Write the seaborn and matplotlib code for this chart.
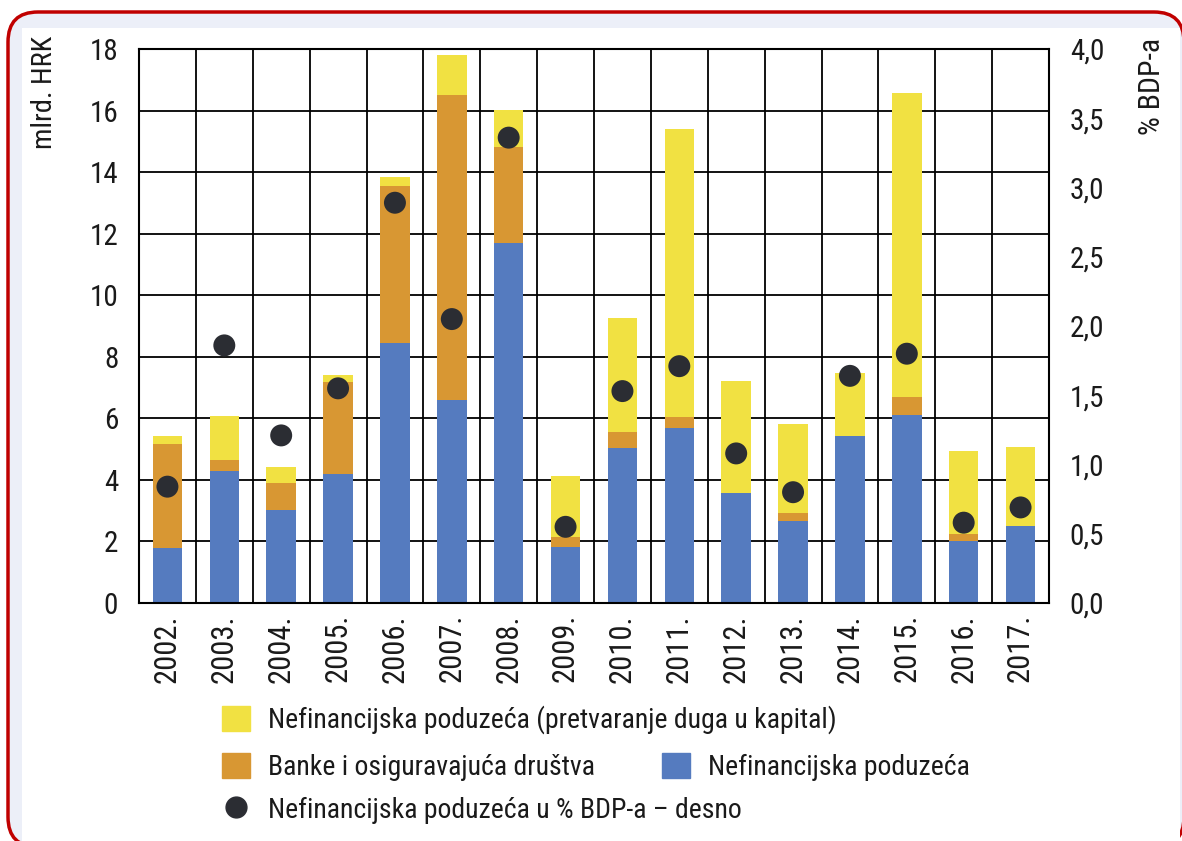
import numpy as np
import pandas as pd
import matplotlib
import matplotlib.pyplot as plt
import seaborn as sns
from matplotlib.patches import Patch, FancyBboxPatch, Rectangle
from matplotlib.lines import Line2D
from matplotlib.ticker import FuncFormatter

matplotlib.use("Agg")

years = ["2002.", "2003.", "2004.", "2005.", "2006.", "2007.", "2008.", "2009.",
         "2010.", "2011.", "2012.", "2013.", "2014.", "2015.", "2016.", "2017."]
# mlrd. HRK, stacked from bottom
nonfin = [1.79, 4.29, 3.02, 4.19, 8.45, 6.60, 11.70, 1.82,
          5.04, 5.69, 3.57, 2.66, 5.43, 6.11, 2.01, 2.50]
banks = [3.38, 0.36, 0.88, 2.99, 5.10, 9.90, 3.12, 0.33,
         0.52, 0.35, 0.00, 0.26, 0.00, 0.58, 0.23, 0.00]
debt_conv = [0.26, 1.43, 0.52, 0.23, 0.29, 1.30, 1.20, 1.98,
             3.70, 9.36, 3.64, 2.90, 2.04, 9.88, 2.70, 2.57]
# % BDP-a, right axis
nonfin_gdp = [0.84, 1.86, 1.21, 1.55, 2.89, 2.05, 3.36, 0.55,
              1.53, 1.71, 1.08, 0.80, 1.64, 1.80, 0.58, 0.69]

lbl_yellow = "Nefinancijska poduzeća (pretvaranje duga u kapital)"
lbl_orange = "Banke i osiguravajuća društva"
lbl_blue = "Nefinancijska poduzeća"
lbl_dot = "Nefinancijska poduzeća u % BDP-a – desno"

c_yellow = "#f1e142"
c_orange = "#d89733"
c_blue = "#557bbf"
c_dot = "#2b2d33"

df = pd.DataFrame({"year": years, "blue": nonfin, "orange": banks,
                   "yellow": debt_conv, "gdp": nonfin_gdp})
df["lvl2"] = df["blue"] + df["orange"]
df["lvl3"] = df["lvl2"] + df["yellow"]

sns.set_style("white")
plt.rcParams["font.family"] = ["Roboto Condensed", "Liberation Sans", "DejaVu Sans"]
plt.rcParams["text.color"] = "#1a1a1a"
plt.rcParams["xtick.color"] = "#1a1a1a"
plt.rcParams["ytick.color"] = "#1a1a1a"

W, H = 1182, 841
fig = plt.figure(figsize=(W / 100, H / 100), dpi=100)

# frame with red rounded border (bottom runs off the picture)
frame = FancyBboxPatch((8, -6), 1176, 835, boxstyle="round,pad=0,rounding_size=30",
                       transform=None, facecolor="#eceff8", edgecolor="#c00000",
                       linewidth=2.5, zorder=0)
fig.add_artist(frame)
inner = Rectangle((22, 0), 1158, 813, transform=None, facecolor="white",
                  edgecolor="none", zorder=0.5)
fig.add_artist(inner)

ax = fig.add_axes([139 / W, 1 - 603 / H, 910 / W, 554 / H])
ax.set_facecolor("none")
ax.set_zorder(2)

for col, color in [("lvl3", c_yellow), ("lvl2", c_orange), ("blue", c_blue)]:
    sns.barplot(data=df, x="year", y=col, color=color, saturation=1,
                width=0.52, ax=ax, zorder=3, linewidth=0)

ax.set_xlim(-0.5, len(years) - 0.5)
ax.set_ylim(0, 18)
ax.set_yticks(np.arange(0, 19, 2))
ax.set_xlabel("")
ax.set_ylabel("")
ax.tick_params(axis="x", labelrotation=90, labelsize=22, length=0, pad=8)
ax.tick_params(axis="y", labelsize=21, length=0, pad=15)
ax.grid(False)
for v in np.arange(2, 18, 2):
    ax.axhline(v, color="black", lw=1.3, zorder=1)
for i in range(len(years) - 1):
    ax.axvline(i + 0.5, color="black", lw=1.3, zorder=1)
for s in ax.spines.values():
    s.set_edgecolor("black")
    s.set_linewidth(1.5)
    s.set_zorder(4)

ax2 = ax.twinx()
sns.scatterplot(x=np.arange(len(years)), y=df["gdp"], color=c_dot, s=250,
                edgecolor="none", ax=ax2, zorder=5)
ax2.set_ylim(0, 4)
ax2.set_yticks(np.arange(0, 4.01, 0.5))
ax2.yaxis.set_major_formatter(FuncFormatter(lambda v, p: f"{v:.1f}".replace(".", ",")))
ax2.tick_params(axis="y", labelsize=21, length=0, pad=15)
ax2.set_ylabel("")
ax2.grid(False)
for s in ax2.spines.values():
    s.set_visible(False)

fig.text(45 / W, 1 - 36 / H, "mlrd. HRK", rotation=90, va="top", ha="center", fontsize=20.5)
fig.text(1152 / W, 1 - 38 / H, "% BDP-a", rotation=90, va="top", ha="center", fontsize=21.5)

leg_kw = dict(frameon=False, loc="center left", borderaxespad=0, borderpad=0,
              handlelength=1.0, handleheight=1.0, handletextpad=0.65, fontsize=20)
fig.legend(handles=[Patch(color=c_yellow, label=lbl_yellow)],
           bbox_to_anchor=(222 / W, 1 - 720 / H), **leg_kw)
fig.legend(handles=[Patch(color=c_orange, label=lbl_orange)],
           bbox_to_anchor=(222 / W, 1 - 767 / H), **leg_kw)
fig.legend(handles=[Patch(color=c_blue, label=lbl_blue)],
           bbox_to_anchor=(662 / W, 1 - 767 / H), **leg_kw)
fig.legend(handles=[Line2D([], [], ls="none", marker="o", markersize=15,
                           color=c_dot, label=lbl_dot)],
           bbox_to_anchor=(222 / W, 1 - 810 / H), **leg_kw)

fig.savefig("out.png", dpi=100)
